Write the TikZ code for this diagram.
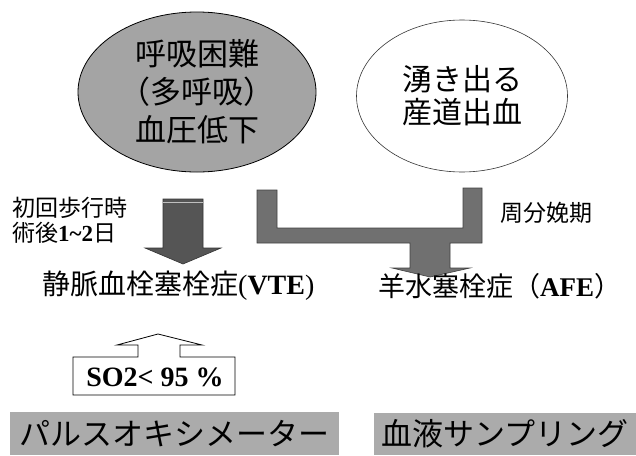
\documentclass[tikz,border=0pt]{standalone}
\usepackage{fontspec}
\setmainfont{Liberation Serif}
\newfontfamily\jp{Noto Sans CJK JP}
\usetikzlibrary{shapes.geometric}
\definecolor{ellgray}{HTML}{A4A4A4}
\definecolor{boxgray}{HTML}{ABABAB}
\definecolor{arrgray}{HTML}{555555}
\definecolor{lgray}{HTML}{707070}
\tikzset{
  ellbase/.style={ellipse, inner sep=0pt, align=center},
  graybox/.style={fill=boxgray, inner sep=0pt},
  lbl/.style={inner sep=0pt, anchor=west},
  darkarrow/.style={fill=arrgray, draw=black!80, line width=0.6pt},
  lshape/.style={fill=lgray, draw=black!75, line width=0.6pt},
  callout/.style={draw=black, line width=0.8pt, fill=white}
}
\begin{document}
\begin{tikzpicture}[x=1pt,y=-1pt]
\useasboundingbox (0,0) rectangle (636,455);
% ellipses
\node[ellbase, draw=black, line width=0.8pt, fill=ellgray, minimum width=238pt, minimum height=160pt,
      font=\jp\fontsize{31}{38}\selectfont] (resp) at (197,92) {呼吸困難\\（多呼吸）\\血圧低下};
\node[ellbase, draw=black!80, line width=0.6pt, fill=white, minimum width=211pt, minimum height=152pt,
      font=\jp\fontsize{30}{33}\selectfont] (bleed) at (462,96) {湧き出る\\産道出血};
% left down arrow
\draw[darkarrow] (163,199) -- (203,199) -- (203,248) -- (221,248) -- (183,264) -- (145,248) -- (163,248) -- cycle;
\draw[white!75!black, line width=1.2pt] (163.4,202.6) -- (202.6,202.6);
% L connector with down arrow
\draw[lshape] (257,190) -- (277,190) -- (277,228) -- (463,228) -- (463,188) -- (482,188) -- (482,243)
  -- (450,243) -- (450,268) -- (470,268) -- (430,277) -- (392,268) -- (410,268) -- (410,243) -- (257,243) -- cycle;
% side labels
\node[lbl, font=\jp\fontsize{23}{25}\selectfont] (walk) at (12,208) {初回歩行時};
\node[lbl, font=\jp\fontsize{23}{25}\selectfont] (postop) at (12,233) {術後{\rmfamily\bfseries 1\textasciitilde 2}日};
\node[lbl, font=\jp\fontsize{23}{25}\selectfont] (peri) at (500,213) {周分娩期};
% diagnoses
\node[lbl, font=\jp\fontsize{28}{32}\selectfont] (vte) at (42,286) {静脈血栓塞栓症{\rmfamily(\textbf{VTE})}};
\node[lbl, font=\jp\fontsize{27}{32}\selectfont] (afe) at (378,286) {羊水塞栓症（{\rmfamily\bfseries AFE}）};
% callout
\draw[callout] (73,357) -- (138,357) -- (138,345) -- (117,345) -- (158,334) -- (202,345) -- (180,345)
  -- (180,357) -- (235,357) -- (235,395) -- (73,395) -- cycle;
\node[inner sep=0pt, font=\fontsize{28}{30}\selectfont\bfseries] (so2) at (155,377) {SO2< 95 \%};
% bottom boxes
\node[graybox, minimum width=329pt, minimum height=43pt, font=\jp\fontsize{31}{34}\selectfont] (pulse) at (174.5,433.5) {パルスオキシメーター};
\node[graybox, minimum width=262pt, minimum height=42pt, font=\jp\fontsize{31}{34}\selectfont] (blood) at (505,434) {血液サンプリング};
\end{tikzpicture}
\end{document}
